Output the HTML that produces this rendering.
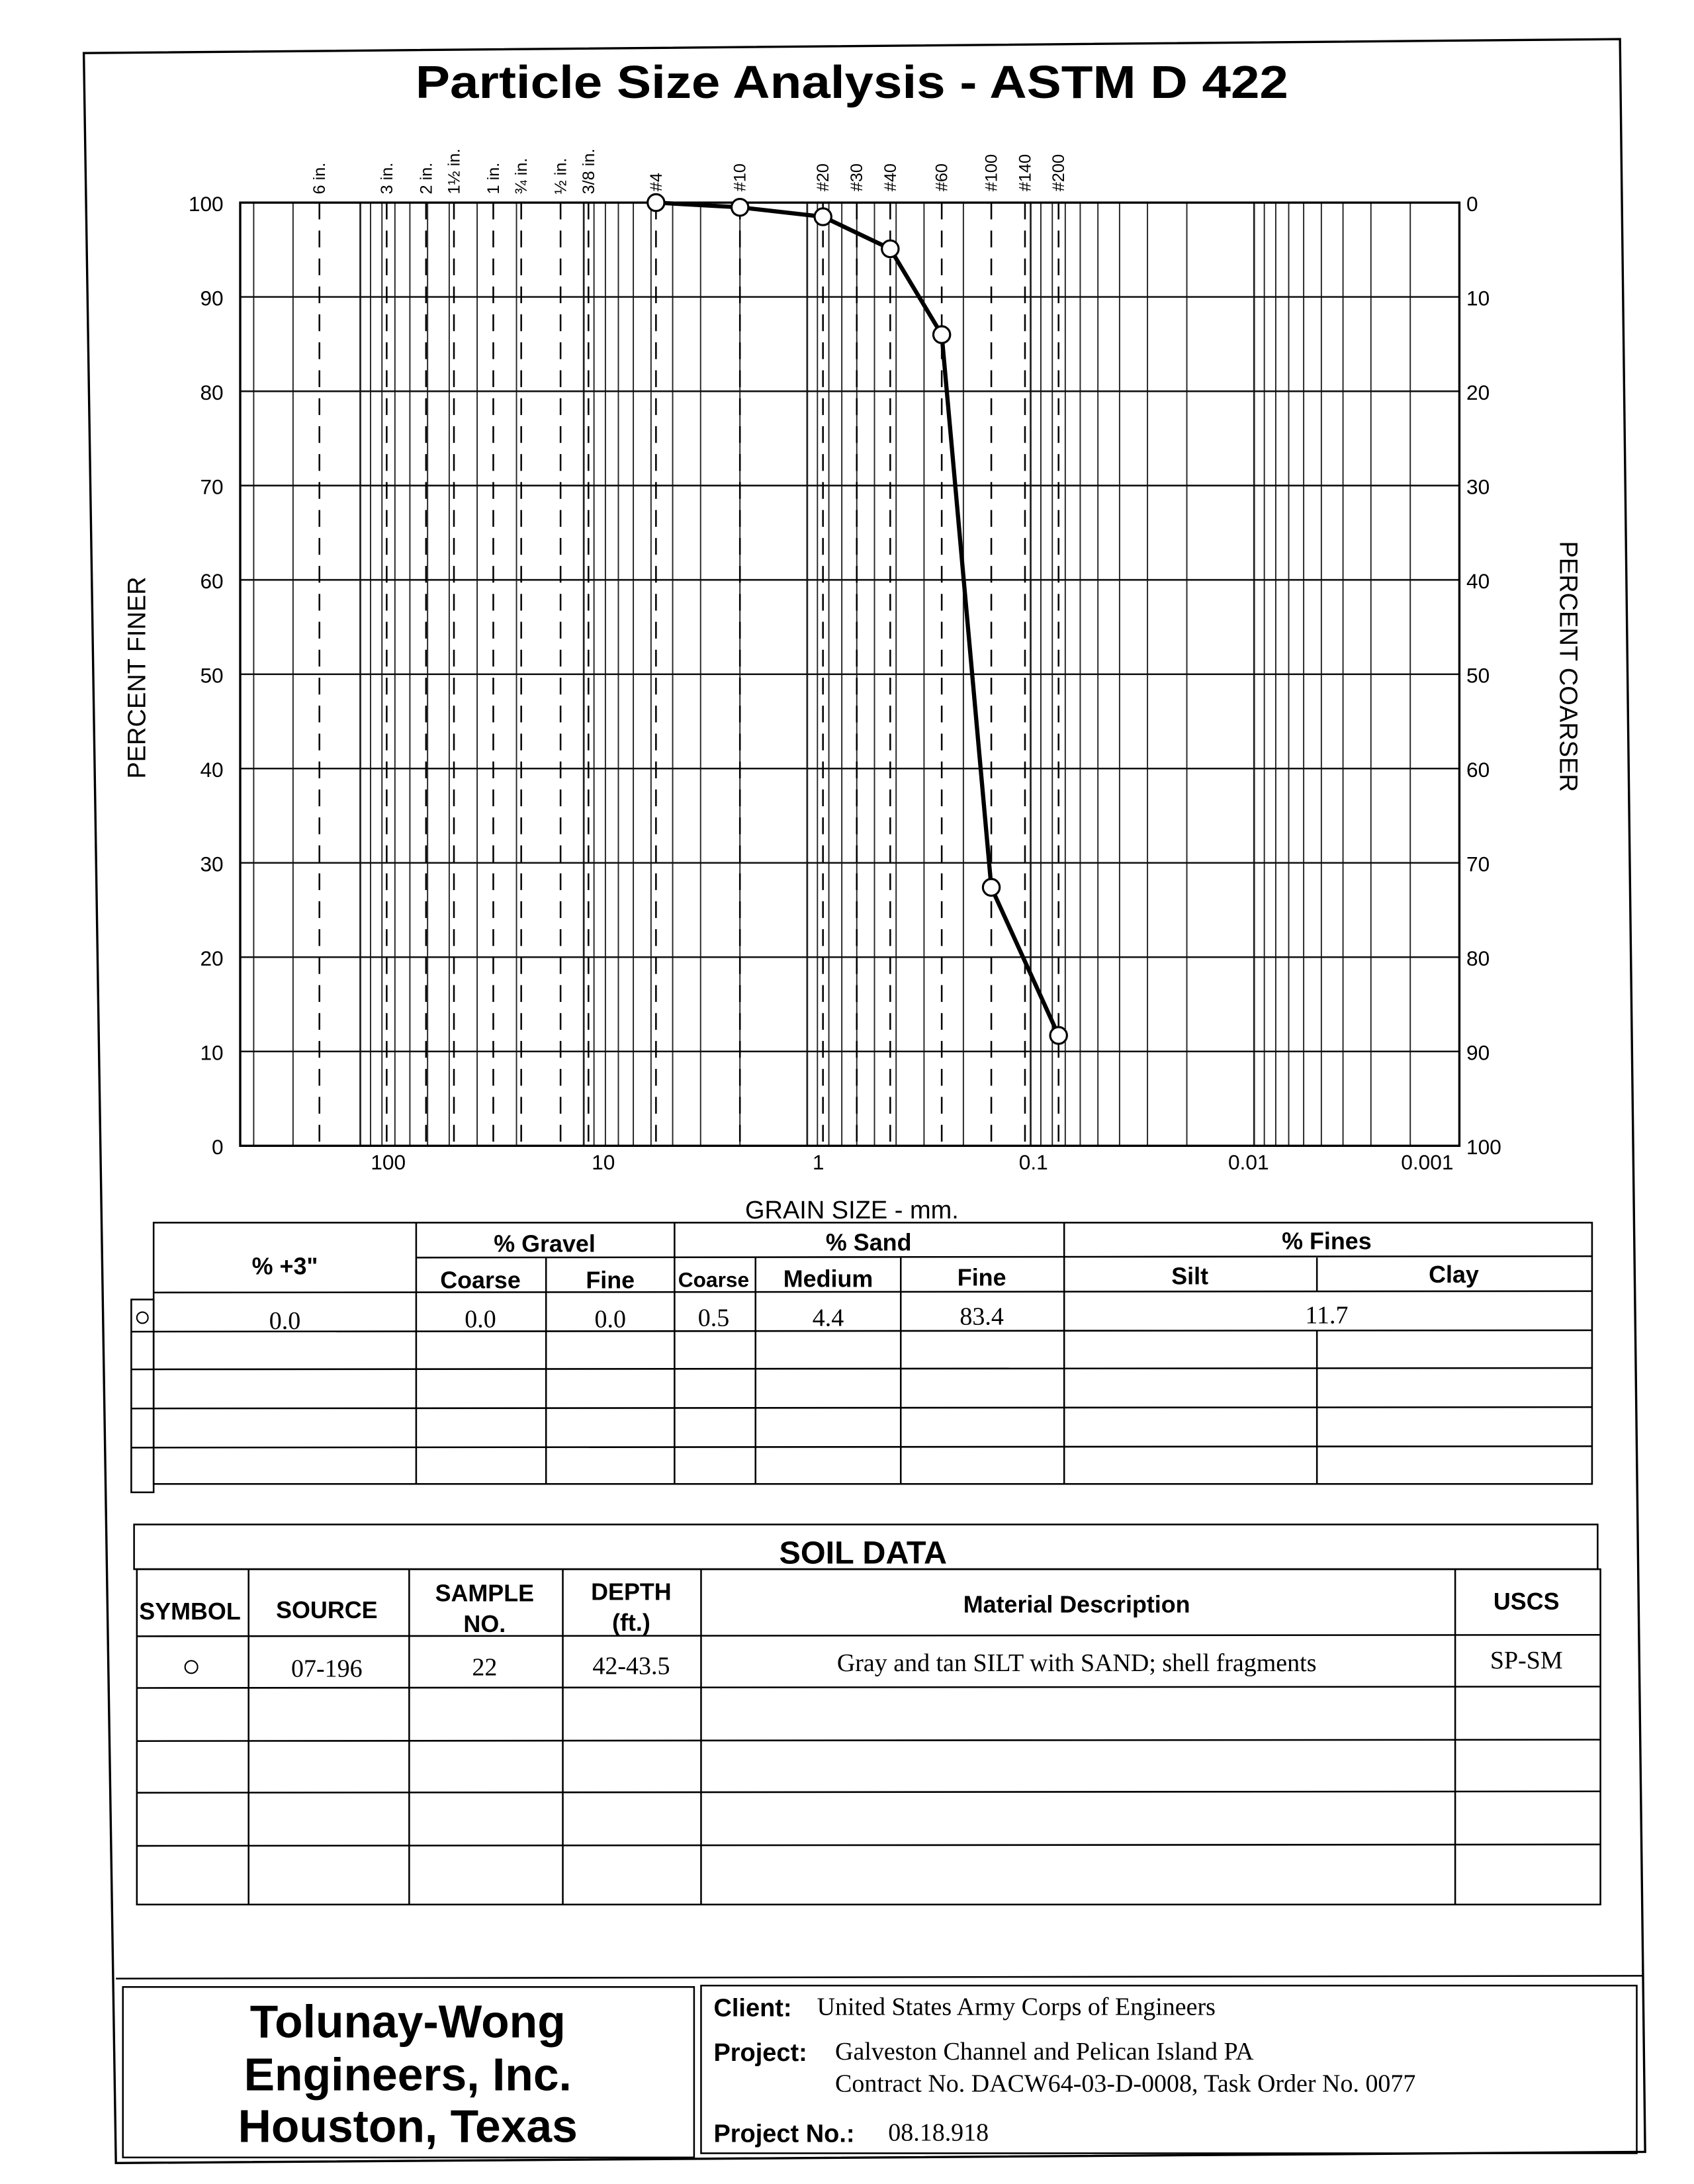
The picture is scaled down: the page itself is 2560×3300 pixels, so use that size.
<!DOCTYPE html>
<html><head><meta charset="utf-8"><style>
html,body{margin:0;padding:0;background:#fff;}
svg{display:block;}
text{font-family:"Liberation Sans",sans-serif;fill:#000;}
.ser{font-family:"Liberation Serif",serif;}
</style></head><body>
<svg id="page" width="2560" height="3300" viewBox="0 0 1213 1563" preserveAspectRatio="none" xmlns="http://www.w3.org/2000/svg">
<rect width="1213" height="1563" fill="#fff"/>
<polygon points="60,38 1160,28 1178,1540 83,1548" fill="none" stroke="#000" stroke-width="1.6"/>
<text x="610" y="70" text-anchor="middle" font-size="33" font-weight="bold" textLength="625" lengthAdjust="spacingAndGlyphs">Particle Size Analysis - ASTM D 422</text>
<g id="chart"></g>

<g stroke="#000" stroke-width="1.2" fill="none">
<rect x="110" y="875" width="1030" height="187"/>
<rect x="94" y="930" width="16" height="138"/>
<line x1="298" y1="900" x2="1140" y2="899"/>
<line x1="110" y1="925" x2="1140" y2="924"/>
<line x1="94" y1="953" x2="1140" y2="952"/>
<line x1="94" y1="980" x2="1140" y2="979"/>
<line x1="94" y1="1008" x2="1140" y2="1007"/>
<line x1="94" y1="1036" x2="1140" y2="1035"/>
<line x1="298" y1="875" x2="298" y2="1062"/>
<line x1="391" y1="900" x2="391" y2="1062"/>
<line x1="483" y1="875" x2="483" y2="1062"/>
<line x1="541" y1="900" x2="541" y2="1062"/>
<line x1="645" y1="900" x2="645" y2="1062"/>
<line x1="762" y1="875" x2="762" y2="1062"/>
<line x1="943" y1="900" x2="943" y2="924"/>
<line x1="943" y1="952" x2="943" y2="1062"/>
</g>
<g font-size="17" font-weight="bold" text-anchor="middle">
<text x="204" y="912">% +3"</text>
<text x="390" y="896">% Gravel</text>
<text x="622" y="895">% Sand</text>
<text x="950" y="894">% Fines</text>
<text x="344" y="922">Coarse</text>
<text x="437" y="922">Fine</text>
<text x="511" y="921" font-size="15">Coarse</text>
<text x="593" y="921">Medium</text>
<text x="703" y="920">Fine</text>
<text x="852" y="919">Silt</text>
<text x="1041" y="918">Clay</text>
</g>
<g class="ser" font-size="18" text-anchor="middle">
<circle cx="102" cy="943" r="4" fill="none" stroke="#000" stroke-width="1"/>
<text class="ser" x="204" y="951">0.0</text>
<text class="ser" x="344" y="950">0.0</text>
<text class="ser" x="437" y="950">0.0</text>
<text class="ser" x="511" y="949">0.5</text>
<text class="ser" x="593" y="949">4.4</text>
<text class="ser" x="703" y="948">83.4</text>
<text class="ser" x="950" y="947">11.7</text>
</g>

<g stroke="#000" stroke-width="1.2" fill="none">
<rect x="96" y="1091" width="1048" height="32"/>
<rect x="98" y="1123" width="1048" height="240"/>
<line x1="98" y1="1171" x2="1146" y2="1170"/>
<line x1="98" y1="1208" x2="1146" y2="1207"/>
<line x1="98" y1="1246" x2="1146" y2="1245"/>
<line x1="98" y1="1283" x2="1146" y2="1282"/>
<line x1="98" y1="1321" x2="1146" y2="1320"/>
<line x1="178" y1="1123" x2="178" y2="1363"/>
<line x1="293" y1="1123" x2="293" y2="1363"/>
<line x1="403" y1="1123" x2="403" y2="1363"/>
<line x1="502" y1="1123" x2="502" y2="1363"/>
<line x1="1042" y1="1123" x2="1042" y2="1363"/>
</g>
<g font-weight="bold" text-anchor="middle" font-size="17">
<text x="618" y="1119" font-size="23">SOIL DATA</text>
<text x="136" y="1159">SYMBOL</text>
<text x="234" y="1158">SOURCE</text>
<text x="347" y="1146">SAMPLE</text>
<text x="347" y="1168">NO.</text>
<text x="452" y="1145">DEPTH</text>
<text x="452" y="1167">(ft.)</text>
<text x="771" y="1154">Material Description</text>
<text x="1093" y="1152">USCS</text>
</g>
<g font-size="18" text-anchor="middle">
<circle cx="137" cy="1193" r="4.5" fill="none" stroke="#000" stroke-width="1"/>
<text class="ser" x="234" y="1200">07-196</text>
<text class="ser" x="347" y="1199">22</text>
<text class="ser" x="452" y="1198">42-43.5</text>
<text class="ser" x="771" y="1196">Gray and tan SILT with SAND; shell fragments</text>
<text class="ser" x="1093" y="1194">SP-SM</text>
</g>

<g stroke="#000" stroke-width="1.2" fill="none">
<line x1="83" y1="1416" x2="1176" y2="1414"/>
<rect x="88" y="1422" width="409" height="122"/>
<rect x="502" y="1421" width="670" height="120"/>
</g>
<g font-size="33" font-weight="bold" text-anchor="middle">
<text x="292" y="1458">Tolunay-Wong</text>
<text x="292" y="1496">Engineers, Inc.</text>
<text x="292" y="1533">Houston, Texas</text>
</g>
<g font-size="18">
<text x="511" y="1443" font-weight="bold">Client:</text>
<text class="ser" x="585" y="1442">United States Army Corps of Engineers</text>
<text x="511" y="1475" font-weight="bold">Project:</text>
<text class="ser" x="598" y="1474">Galveston Channel and Pelican Island PA</text>
<text class="ser" x="598" y="1497">Contract No. DACW64-03-D-0008, Task Order No. 0077</text>
<text x="511" y="1533" font-weight="bold">Project No.:</text>
<text class="ser" x="636" y="1532">08.18.918</text>
</g>
</svg>
<script>
const sieveLabels = ["6 in.","3 in.","2 in.","1½ in.","1 in.","¾ in.","½ in.","3/8 in.","#4","#10","#20","#30","#40","#60","#100","#140","#200"];
const sieveSizes = [152.4,76.2,50.8,38.1,25.4,19.05,12.7,9.525,4.75,2.0,0.85,0.6,0.425,0.25,0.15,0.106,0.075];
const sampleSizes = [4.75,2.0,0.85,0.425,0.25,0.15,0.075];
const samplePercent = [100,99.5,98.5,95.1,86.0,27.4,11.7];
const yTicks = [0,10,20,30,40,50,60,70,80,90,100];
const xTickValues = [100,10,1,0.1,0.01,0.001];
const xTickLabels = ["100","10","1","0.1","0.01","0.001"];

const NS="http://www.w3.org/2000/svg";
const g=document.getElementById('chart');
const L=172,R=1045,T=145,B=820;
const DEC=160, X1=578;
function xs(d){return X1-Math.log10(d)*DEC;}
function xl(d){return Math.min(586-Math.log10(d)*154, 1022);}
function ys(p){return B-(p/100)*(B-T);}
function mk(tag,attrs,txt){const e=document.createElementNS(NS,tag);for(const k in attrs)e.setAttribute(k,attrs[k]);if(txt!==undefined)e.textContent=txt;g.appendChild(e);return e;}

for(let k=3;k>=-3;k--){for(let m=1;m<=9;m++){const d=m*Math.pow(10,k);const x=xs(d);if(x<L-0.5||x>R+0.5)continue;
 const ln=mk('line',{x1:x,y1:T,x2:x,y2:B,stroke:'#222','stroke-width':m===1?1.3:0.9});
 
 }}
yTicks.forEach(p=>{const y=ys(p);
 const ln=mk('line',{x1:L,y1:y,x2:R,y2:y,stroke:'#111','stroke-width':1.2});
 
 
 const tl=mk('text',{x:L-12,y:y+6,'font-size':15,'text-anchor':'end'},String(p));
 
 
 const tr=mk('text',{x:R+5,y:y+6,'font-size':15},String(100-p));
 
 
});
mk('rect',{x:L,y:T,width:R-L,height:B-T,fill:'none',stroke:'#000','stroke-width':1.6});
sieveSizes.forEach((s,i)=>{const x=xs(s);
 const ln=mk('line',{x1:x,y1:T,x2:x,y2:B,stroke:'#000','stroke-width':1.2,'stroke-dasharray':'12,8'});
 
 
 const t=mk('text',{x:0,y:0,'font-size':12,transform:`translate(${x+4},${i<8?139:137}) rotate(-90)`},sieveLabels[i]);
 
 
});
xTickValues.forEach((v,i)=>{
 const t=mk('text',{x:xl(v),y:837,'font-size':15,'text-anchor':'middle'},xTickLabels[i]);
 
 
});
let at=mk('text',{x:610,y:872,'font-size':18,'text-anchor':'middle'},'GRAIN SIZE - mm.');


at=mk('text',{x:0,y:0,'font-size':18,'text-anchor':'middle',transform:'translate(104,485) rotate(-90)'},'PERCENT FINER');


at=mk('text',{x:0,y:0,'font-size':18,'text-anchor':'middle',transform:'translate(1117,477) rotate(90)'},'PERCENT COARSER');


const pts=sampleSizes.map((s,i)=>xs(s)+','+ys(samplePercent[i])).join(' ');
const pl=mk('polyline',{points:pts,fill:'none',stroke:'#000','stroke-width':3});


sampleSizes.forEach((s,i)=>{
 const c=mk('circle',{cx:xs(s),cy:ys(samplePercent[i]),r:6,fill:'#fff',stroke:'#000','stroke-width':1.5});
 
 
});
</script>
</body></html>
